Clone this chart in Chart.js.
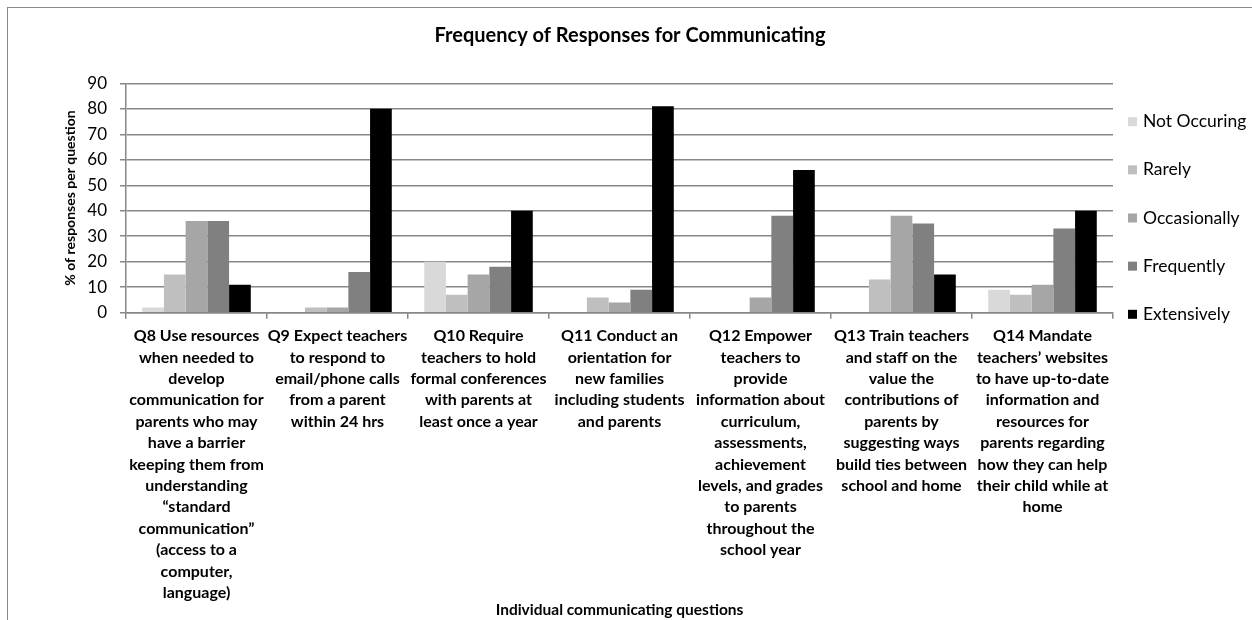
<!DOCTYPE html>
<html>
<head>
<meta charset="utf-8">
<title>Frequency of Responses for Communicating</title>
<script src="https://cdn.jsdelivr.net/npm/chart.js@4.4.1/dist/chart.umd.min.js"></script>
<style>
  html, body { margin: 0; padding: 0; background: #fff; overflow: hidden; }
  #wrap { position: relative; width: 1252px; height: 620px; }
  #frame { position: absolute; left: 7px; top: 7px; width: 1400px; height: 800px;
           border: 1.5px solid #8a8a8a; box-sizing: border-box; }
  canvas { position: absolute; left: 0; top: 0; }
</style>
</head>
<body>
<div id="wrap">
  <div id="frame"></div>
  <canvas id="chart" width="1252" height="620"></canvas>
</div>
<script>
// Question labels, one array of text lines per question
const questions = [
  ['Q8 Use resources', 'when needed to', 'develop', 'communication for', 'parents who may', 'have a barrier',
   'keeping them from', 'understanding', '\u201Cstandard', 'communication\u201D', '(access to a', 'computer,', 'language)'],
  ['Q9 Expect teachers', 'to respond to', 'email/phone calls', 'from a parent', 'within 24 hrs'],
  ['Q10 Require', 'teachers to hold', 'formal conferences', 'with parents at', 'least once a year'],
  ['Q11 Conduct an', 'orientation for', 'new families', 'including students', 'and parents'],
  ['Q12 Empower', 'teachers to', 'provide', 'information about', 'curriculum,', 'assessments,',
   'achievement', 'levels, and grades', 'to parents', 'throughout the', 'school year'],
  ['Q13 Train teachers', 'and staff on the', 'value the', 'contributions of', 'parents by',
   'suggesting ways', 'build ties between', 'school and home'],
  ['Q14 Mandate', 'teachers\u2019 websites', 'to have up-to-date', 'information and', 'resources for',
   'parents regarding', 'how they can help', 'their child while at', 'home']
];

// Response frequencies (% of responses per question)
const seriesNames = ['Not Occuring', 'Rarely', 'Occasionally', 'Frequently', 'Extensively'];
const notOccuring  = [2, 0, 20, 0, 0, 0, 9];
const rarely       = [15, 2, 7, 6, 0, 13, 7];
const occasionally = [36, 2, 15, 4, 6, 38, 11];
const frequently   = [36, 16, 18, 9, 38, 35, 33];
const extensively  = [11, 80, 40, 81, 56, 15, 40];

// Value axis range
const yMin = 0;
const yMax = 90;
const yStep = 10;

const seriesColors = ['#d9d9d9', '#bfbfbf', '#a6a6a6', '#808080', '#000000'];
const seriesValues = [notOccuring, rarely, occasionally, frequently, extensively];

const FONT = "Lato, 'Open Sans', 'DejaVu Sans', sans-serif";
const GRID = '#878787';

// Legend drawn as a vertical list in the space reserved on the right
const sideLegend = {
  id: 'sideLegend',
  afterDraw(chart, args, opts) {
    const ctx = chart.ctx;
    ctx.save();
    ctx.font = `${opts.fontSize}px ${FONT}`;
    ctx.textBaseline = 'middle';
    ctx.textAlign = 'left';
    chart.data.datasets.forEach((ds, i) => {
      const y = opts.top + i * opts.step;
      ctx.fillStyle = ds.backgroundColor;
      ctx.fillRect(opts.boxX, y - opts.box / 2, opts.box, opts.box);
      ctx.fillStyle = '#000';
      ctx.fillText(ds.label, opts.textX, y);
    });
    ctx.restore();
  }
};

new Chart(document.getElementById('chart'), {
  type: 'bar',
  data: {
    labels: questions,
    datasets: seriesNames.map((name, i) => ({
      label: name,
      data: seriesValues[i],
      backgroundColor: seriesColors[i],
      borderWidth: 0,
      barPercentage: 1.0,
      categoryPercentage: 0.77,
      yAxisID: 'y'
    }))
  },
  options: {
    responsive: false,
    animation: false,
    events: [],
    layout: { padding: { left: 8, right: 0, top: 0, bottom: 0 } },
    plugins: {
      legend: { display: false },
      tooltip: { enabled: false },
      title: {
        display: true,
        text: 'Frequency of Responses for Communicating',
        color: '#000',
        font: { family: FONT, size: 20, weight: 'bold', lineHeight: 1.2 },
        padding: { top: 24, bottom: 35.3 }
      },
      sideLegend: { top: 121.7, step: 48.15, box: 9, boxX: 1128, textX: 1143, fontSize: 17.5 }
    },
    scales: {
      x: {
        grid: { display: true, drawOnChartArea: false, drawTicks: true, tickLength: 6, color: GRID, lineWidth: 1.5 },
        border: { display: true, color: GRID, width: 1.5 },
        ticks: {
          autoSkip: false, maxRotation: 0, minRotation: 0, padding: 6.6, color: '#000',
          font: { family: FONT, size: 16, weight: 'bold', lineHeight: 1.3375 }
        },
        title: {
          display: true, text: 'Individual communicating questions', color: '#000',
          font: { family: FONT, size: 15.5, weight: 'bold', lineHeight: 1.2 },
          padding: { top: 0, bottom: 1 }
        },
        afterFit(scale) { scale.height = 307.3; }
      },
      y: {
        min: yMin, max: yMax,
        grid: { color: GRID, lineWidth: 1.5, tickLength: 6 },
        border: { display: true, color: GRID, width: 1.5 },
        ticks: {
          stepSize: yStep, padding: 13, color: '#000',
          font: { family: FONT, size: 17 }
        },
        title: {
          display: true, text: '% of responses per question', color: '#000',
          font: { family: FONT, size: 14, weight: 'bold', lineHeight: 1.2 },
          padding: { top: 54.3, bottom: 0 }
        },
        afterFit(scale) { scale.width = 118; }
      },
      // empty right-hand axis that only reserves the legend column
      legendSpace: {
        type: 'linear', position: 'right', display: true,
        grid: { display: false, drawTicks: false },
        border: { display: false },
        ticks: { display: false },
        afterFit(scale) { scale.width = 139; }
      }
    }
  },
  plugins: [sideLegend]
});
</script>
</body>
</html>
